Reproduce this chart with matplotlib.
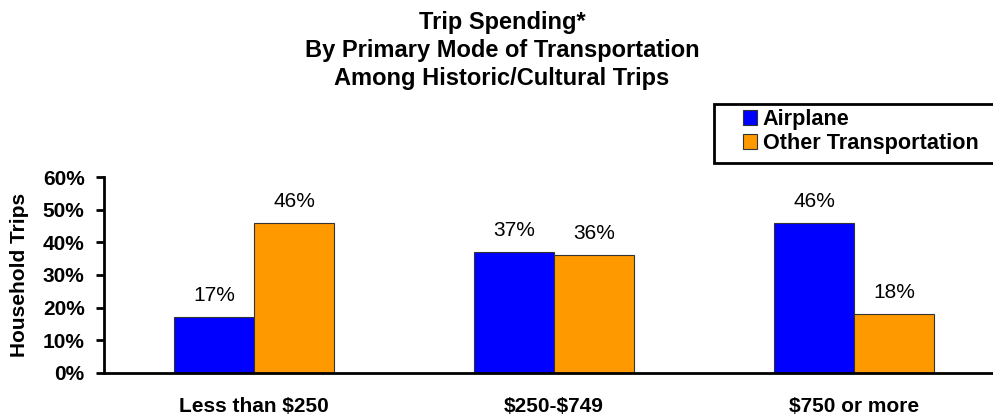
import matplotlib
matplotlib.use("Agg")
import matplotlib.pyplot as plt
from matplotlib.patches import Patch, Rectangle
import numpy as np

plt.rcParams['font.family'] = ['Liberation Sans', 'DejaVu Sans']

categories = ["Less than \\$250", "\\$250-\\$749", "\\$750 or more"]
series_names = ["Airplane", "Other Transportation"]
airplane = [17, 37, 46]
other = [46, 36, 18]
colors = ["#0000FF", "#FF9900"]
yticks = [0, 10, 20, 30, 40, 50, 60]
title_lines = ["Trip Spending*", "By Primary Mode of Transportation", "Among Historic/Cultural Trips"]

W, H = 993, 418
fig = plt.figure(figsize=(W / 100, H / 100), dpi=100)
ax = fig.add_axes([104 / W, (H - 373) / H, 900 / W, 196 / H])

x = np.arange(len(categories))
bw = 0.267
for i, (vals, col) in enumerate(zip([airplane, other], colors)):
    pos = x + (i - 0.5) * bw
    ax.bar(pos, vals, width=bw, color=col, edgecolor="#333333", linewidth=0.8, zorder=2)
    for p, v in zip(pos, vals):
        ax.annotate(f"{v}%", (p, v), xytext=(0, 11.5), textcoords="offset points",
                    ha="center", va="baseline", fontsize=15)

ax.set_xlim(-0.5, 2.5)
ax.set_ylim(0, 60)
ax.set_yticks(yticks)
ax.set_yticklabels([f"{t}%" for t in yticks], fontsize=15, fontweight="bold")
ax.set_xticks(x)
ax.set_xticklabels(categories, fontsize=15, fontweight="bold")
ax.tick_params(axis="x", length=0, pad=17)
ax.tick_params(axis="y", length=6, width=2, direction="out", pad=8)
for s in ["top", "right"]:
    ax.spines[s].set_visible(False)
for s in ["left", "bottom"]:
    ax.spines[s].set_linewidth(2)

fig.text(20 / W, 1 - 275 / H, "Household Trips", rotation=90, ha="center", va="center",
         fontsize=15, fontweight="bold")

for k, line in enumerate(title_lines):
    fig.text(502 / W, 1 - (22 + 28 * k) / H, line, ha="center", va="center",
             fontsize=17, fontweight="bold")

# legend frame
fig.patches.append(Rectangle((714 / W, 1 - 163 / H), 300 / W, 59 / H, transform=fig.transFigure,
                             facecolor="white", edgecolor="black", linewidth=2, zorder=1))
handles = [Patch(facecolor=c, edgecolor="#333333", linewidth=0.8) for c in colors]
leg = fig.legend(handles, series_names, loc="upper left", bbox_to_anchor=(726 / W, 1 - 92 / H),
                 frameon=False, prop={"size": 15.6, "weight": "bold"}, handlelength=0.65,
                 handleheight=0.65, handletextpad=0.25, labelspacing=0.12, borderpad=0.3)
leg.set_zorder(3)

fig.savefig("out.png", dpi=100, facecolor="white")
